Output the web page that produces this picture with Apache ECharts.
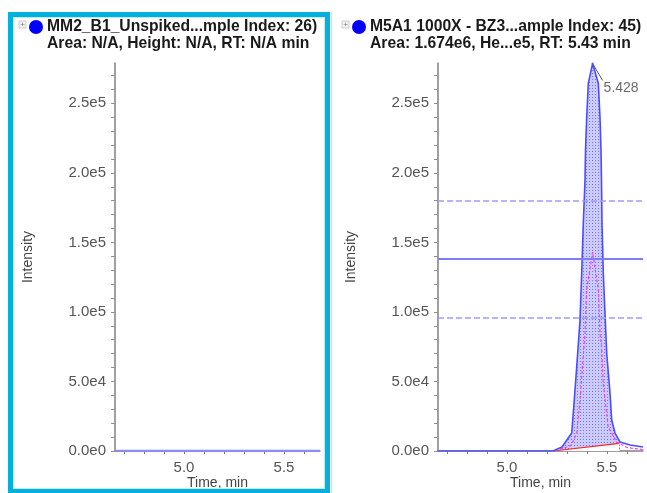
<!DOCTYPE html>
<html>
<head>
<meta charset="utf-8">
<script src="https://cdn.jsdelivr.net/npm/echarts@6/dist/echarts.min.js"></script>
<style>
  html, body { margin: 0; padding: 0; background: #fff; }
  #main { width: 647px; height: 493px; }
</style>
</head>
<body>
<div id="main"></div>
<script>
// left sample: no peak, flat trace
var leftTime = [4.655, 4.8, 5.0, 5.3, 5.68];
var leftIntensity = [0, 0, 0, 0, 0];

// right sample: XIC trace
var peakTime = [4.655, 5.23, 5.275, 5.3235, 5.3325, 5.3485, 5.365, 5.3735, 5.3815, 5.39, 5.3925, 5.3985, 5.4065, 5.428,
                 5.4565, 5.465, 5.47, 5.4725, 5.475, 5.4815, 5.49, 5.4985, 5.515, 5.5235, 5.54, 5.565, 5.615, 5.68];
var peakIntensity = [0, 0, 2900, 12900, 29500, 60300, 94100, 127900, 163800, 194700, 216200, 240000, 264400, 278700,
                     264400, 240000, 216200, 194700, 163800, 127900, 99100, 70400, 41700, 22300, 12900, 6500, 4300, 2900];

// second (dashed magenta) trace
var refTime = [5.24, 5.32, 5.349, 5.365, 5.39, 5.398, 5.428, 5.457, 5.465, 5.473, 5.481, 5.506, 5.548, 5.6, 5.68];
var refIntensity = [0, 4000, 12900, 36600, 84800, 115700, 143000, 115700, 84800, 74700, 48900, 17200, 6500, 2500, 1000];

// integration baseline
var baseTime = [5.232, 5.56];
var baseIntensity = [0, 5500];

// half-height level and +/- band
var levelSolid = [137900];
var levelDashed = [179600, 95500];

// axis ticks
var xLabelValues = [5.0, 5.5];
var xTickValues = [4.7, 4.8, 4.9, 5.0, 5.1, 5.2, 5.3, 5.4, 5.5, 5.6];
var yLabelValues = [0, 50000, 100000, 150000, 200000, 250000];
var yTickValues = [0, 10000, 20000, 30000, 40000, 50000, 60000, 70000, 80000, 90000, 100000, 110000, 120000, 130000,
                   140000, 150000, 160000, 170000, 180000, 190000, 200000, 210000, 220000, 230000, 240000, 250000,
                   260000, 270000];

var titles = [
  ['MM2_B1_Unspiked...mple Index: 26)', 'Area: N/A, Height: N/A, RT: N/A min'],
  ['M5A1 1000X - BZ3...ample Index: 45)', 'Area: 1.674e6, He...e5, RT: 5.43 min']
];

function zip(a, b) { return a.map(function (v, i) { return [v, b[i]]; }); }

var peakIdx = peakIntensity.indexOf(Math.max.apply(null, peakIntensity));
var fillData = zip(peakTime, peakIntensity).filter(function (p) {
  return p[0] >= baseTime[0] - 0.001 && p[0] <= 5.565;
});

// dotted fill pattern
var pat = document.createElement('canvas');
pat.width = 3; pat.height = 3;
var pctx = pat.getContext('2d');
pctx.fillStyle = '#cbcbff';
pctx.fillRect(0, 0, 3, 3);
pctx.fillStyle = '#7474ff';
pctx.fillRect(1, 1, 1, 1);

var FONT = "'Liberation Sans', Arial, sans-serif";

function xAxisOf(idx) {
  return {
    type: 'value', gridIndex: idx, min: 4.655, max: 5.68,
    name: 'Time, min', nameLocation: 'middle', nameGap: 25, nameMoveOverlap: false,
    nameTextStyle: { color: '#444', fontSize: 14, fontFamily: FONT },
    axisLine: { show: true, onZero: false, lineStyle: { color: '#808080', width: 1.5 } },
    axisTick: { show: true, length: 3, customValues: xTickValues, lineStyle: { color: '#808080' } },
    axisLabel: { customValues: xLabelValues, margin: 9, color: '#555', fontSize: 15, fontFamily: FONT,
                 formatter: function (v) { return v.toFixed(1); } },
    splitLine: { show: false }
  };
}
function yAxisOf(idx) {
  return {
    type: 'value', gridIndex: idx, min: 0, max: 279000,
    name: 'Intensity', nameLocation: 'middle', nameRotate: 90, nameGap: 80,
    nameTextStyle: { color: '#444', fontSize: 14, fontFamily: FONT },
    axisLine: { show: true, lineStyle: { color: '#808080', width: 1.5 } },
    axisTick: { show: true, length: 4, customValues: yTickValues, lineStyle: { color: '#909090' } },
    axisLabel: { customValues: yLabelValues, margin: 9, color: '#555', fontSize: 15, fontFamily: FONT,
                 formatter: function (v) { return v.toExponential(1).replace('+', ''); } },
    splitLine: { show: false }
  };
}

function header(x0, t) {
  return [
    { type: 'rect', shape: { x: x0 - 18, y: 21, width: 7, height: 7 },
      style: { fill: '#f2f2f2', stroke: '#cfcfcf', lineWidth: 1 } },
    { type: 'text', x: x0 - 14.5, y: 24.5, style: { text: '+', fill: '#777', font: '8px ' + FONT, align: 'center', verticalAlign: 'middle' } },
    { type: 'circle', shape: { cx: x0 - 1, cy: 27, r: 7 }, style: { fill: '#0000ff' } },
    { type: 'text', x: x0 + 10, y: 27, style: { text: t[0], fill: '#1a1a1a', font: 'bold 15.7px ' + FONT, verticalAlign: 'middle' } },
    { type: 'text', x: x0 + 10, y: 44, style: { text: t[1], fill: '#1a1a1a', font: 'bold 15.7px ' + FONT, verticalAlign: 'middle' } }
  ];
}

var chart = echarts.init(document.getElementById('main'));
chart.setOption({
  animation: false,
  backgroundColor: '#fff',
  grid: [
    { left: 115, top: 63, width: 205, height: 388, outerBoundsMode: 'none', containLabel: false },
    { left: 438, top: 63, width: 205, height: 388, outerBoundsMode: 'none', containLabel: false }
  ],
  xAxis: [xAxisOf(0), xAxisOf(1)],
  yAxis: [yAxisOf(0), yAxisOf(1)],
  graphic: [
    { type: 'rect', shape: { x: 10.5, y: 14.5, width: 317, height: 477 },
      style: { fill: 'none', stroke: '#06b0dc', lineWidth: 5 }, z: 10 },
    { type: 'rect', shape: { x: 13.5, y: 17.5, width: 311, height: 471 },
      style: { fill: 'none', stroke: '#b8ecf7', lineWidth: 1 }, z: 10 },
    { type: 'line', shape: { x1: 331.5, y1: 12, x2: 331.5, y2: 493 },
      style: { stroke: '#b8ecf7', lineWidth: 1.5 }, z: 10 }
  ].concat(header(37, titles[0])).concat(header(360, titles[1])),
  series: [
    {
      type: 'line', xAxisIndex: 0, yAxisIndex: 0, data: zip(leftTime, leftIntensity),
      symbol: 'none', lineStyle: { color: '#8c8cf5', width: 2.5 }, z: 3
    },
    {
      type: 'line', xAxisIndex: 1, yAxisIndex: 1, data: fillData,
      symbol: 'none', lineStyle: { width: 0 }, areaStyle: { color: { image: pat, repeat: 'repeat' }, opacity: 1 }, z: 1
    },
    {
      type: 'line', xAxisIndex: 1, yAxisIndex: 1, data: zip(baseTime, baseIntensity),
      symbol: 'none', lineStyle: { color: '#ff2020', width: 1.2 }, areaStyle: { color: '#fff', opacity: 1 }, z: 2
    },
    {
      type: 'line', xAxisIndex: 1, yAxisIndex: 1, data: zip(refTime, refIntensity),
      symbol: 'none', lineStyle: { color: '#f040f0', width: 1.2, type: [3, 2] }, z: 3
    },
    {
      type: 'line', xAxisIndex: 1, yAxisIndex: 1, data: zip(peakTime, peakIntensity),
      symbol: 'none', lineStyle: { color: '#4c4cff', width: 1.6 }, z: 4,
      markLine: {
        silent: true, symbol: 'none', label: { show: false },
        data: levelSolid.map(function (v) { return { yAxis: v, lineStyle: { color: '#7c7cff', width: 2, type: 'solid' } }; })
          .concat(levelDashed.map(function (v) { return { yAxis: v, lineStyle: { color: '#9c9cff', width: 1.5, type: 'dashed' } }; }))
      }
    },
    {
      // apex label
      type: 'scatter', xAxisIndex: 1, yAxisIndex: 1, z: 6,
      data: [[peakTime[peakIdx], peakIntensity[peakIdx]]],
      symbolSize: 2, itemStyle: { color: '#4c4cff' },
      label: { show: true, position: 'right', distance: 4, color: '#444', fontSize: 14, fontFamily: FONT,
               formatter: function (d) { return d.value[0].toFixed(3); } },
      labelLayout: { dx: 6, dy: 25 }
    }
  ]
});

// leader line from apex to its label
var apex = chart.convertToPixel({ xAxisIndex: 1, yAxisIndex: 1 }, [peakTime[peakIdx], peakIntensity[peakIdx]]);
chart.setOption({
  graphic: [{
    id: 'apexLeader', type: 'line', z: 20,
    shape: { x1: apex[0] + 0.5, y1: apex[1] + 1, x2: apex[0] + 10, y2: apex[1] + 17 },
    style: { stroke: '#555', lineWidth: 1 }
  }]
});
</script>
</body>
</html>
